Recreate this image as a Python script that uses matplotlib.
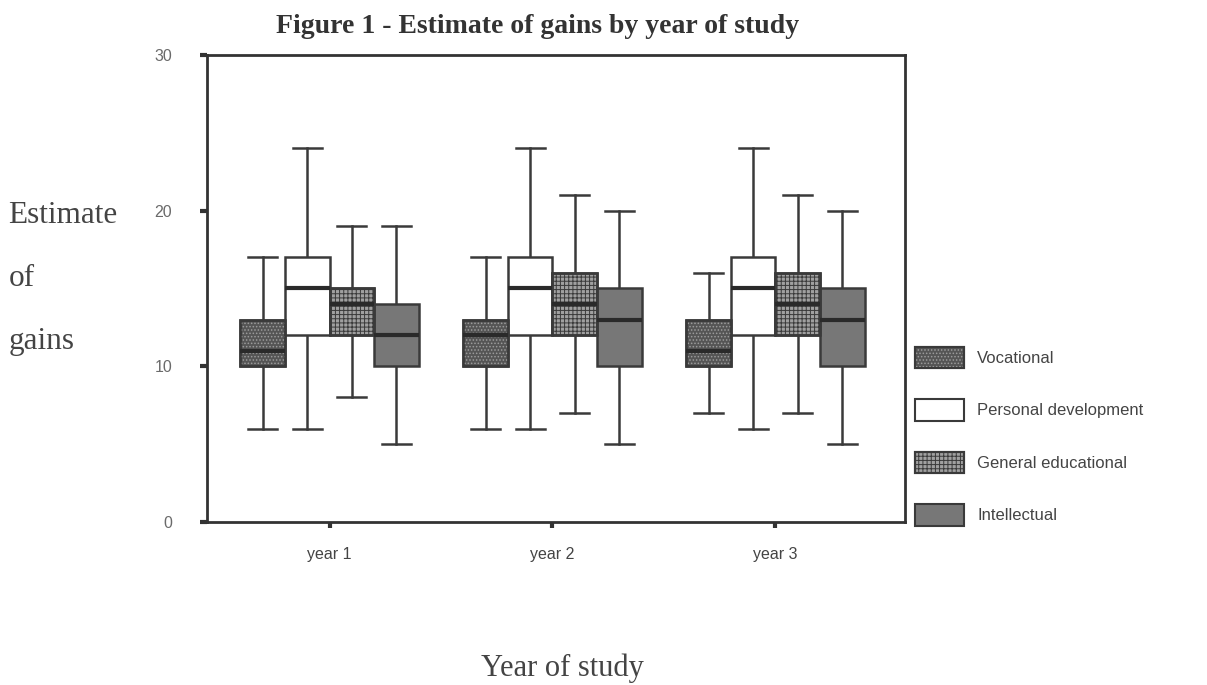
import matplotlib
matplotlib.use("Agg")
import matplotlib.pyplot as plt
from matplotlib.patches import Patch, PathPatch

plt.rcParams['hatch.linewidth'] = 0.7

# five-number summaries per category, one value per year of study
years = ['year 1', 'year 2', 'year 3']
categories = ['Vocational', 'Personal development', 'General educational', 'Intellectual']

whislo = {
    'Vocational': [6, 6, 7],
    'Personal development': [6, 6, 6],
    'General educational': [8, 7, 7],
    'Intellectual': [5, 5, 5],
}
q1 = {
    'Vocational': [10, 10, 10],
    'Personal development': [12, 12, 12],
    'General educational': [12, 12, 12],
    'Intellectual': [10, 10, 10],
}
med = {
    'Vocational': [11, 12, 11],
    'Personal development': [15, 15, 15],
    'General educational': [14, 14, 14],
    'Intellectual': [12, 13, 13],
}
q3 = {
    'Vocational': [13, 13, 13],
    'Personal development': [17, 17, 17],
    'General educational': [15, 16, 16],
    'Intellectual': [14, 15, 15],
}
whishi = {
    'Vocational': [17, 17, 16],
    'Personal development': [24, 24, 24],
    'General educational': [19, 21, 21],
    'Intellectual': [19, 20, 20],
}

face = {
    'Vocational': '#555555',
    'Personal development': '#ffffff',
    'General educational': '#a0a0a0',
    'Intellectual': '#777777',
}
hatch = {
    'Vocational': '.....',
    'Personal development': None,
    'General educational': '++++',
    'Intellectual': None,
}
hatch_col = {
    'Vocational': '#9c9c9c',
    'General educational': '#3a3a3a',
}

line_col = '#3a3a3a'

fig = plt.figure(figsize=(12.07, 6.85), dpi=100)
ax = fig.add_axes([0.1715, 0.238, 0.578, 0.682])

width = 0.2
offsets = [-1.5, -0.5, 0.5, 1.5]

for cat, off in zip(categories, offsets):
    stats = []
    for i in range(len(years)):
        stats.append(dict(whislo=whislo[cat][i], q1=q1[cat][i], med=med[cat][i],
                          q3=q3[cat][i], whishi=whishi[cat][i], fliers=[]))
    pos = [i + off * width for i in range(len(years))]
    bp = ax.bxp(stats, positions=pos, widths=width, patch_artist=True,
                showfliers=False, manage_ticks=False,
                boxprops=dict(facecolor=face[cat], edgecolor=line_col, linewidth=1.8),
                whiskerprops=dict(color=line_col, linewidth=1.8),
                capprops=dict(color=line_col, linewidth=1.8),
                medianprops=dict(color='#2a2a2a', linewidth=3),
                capwidths=0.13)
    for box in bp['boxes']:
        box.set_zorder(2)
        if hatch[cat]:
            over = PathPatch(box.get_path(), facecolor='none', edgecolor=hatch_col[cat],
                             hatch=hatch[cat], linewidth=0, zorder=2.1)
            ax.add_patch(over)
            # redraw the outline above the pattern
            ax.add_patch(PathPatch(box.get_path(), facecolor='none', edgecolor=line_col,
                                   linewidth=1.8, zorder=2.2))
    for m in bp['medians']:
        m.set_zorder(3)
    for w in bp['whiskers'] + bp['caps']:
        w.set_zorder(1)

ax.set_xlim(-0.55, 2.58)
ax.set_ylim(0, 30)
ax.set_xticks(range(len(years)))
ax.set_xticklabels(years)
ax.set_yticks([0, 10, 20, 30])

for s in ax.spines.values():
    s.set_color('#333333')
    s.set_linewidth(2)

ax.tick_params(axis='y', length=5, width=3, color='#333333', pad=20,
               labelsize=11.5, labelcolor='#6a6a6a')
ax.tick_params(axis='x', length=4, width=3, color='#333333', pad=14,
               labelsize=11.5, labelcolor='#444444')
for t in ax.get_xticklabels() + ax.get_yticklabels():
    t.set_family('Liberation Sans')

fig.text(0.445, 0.961, 'Figure 1 - Estimate of gains by year of study',
         ha='center', va='center', family='Liberation Serif', fontweight='bold',
         fontsize=20, color='#333333')
for txt, y in zip(['Estimate', 'of', 'gains'], [0.686, 0.594, 0.502]):
    fig.text(0.007, y, txt, ha='left', va='center', family='Liberation Serif',
             fontsize=22.5, color='#444444')
fig.text(0.466, 0.025, 'Year of study', ha='center', va='center',
         family='Liberation Serif', fontsize=22, color='#444444')

handles = []
for cat in categories:
    base = Patch(facecolor=face[cat], edgecolor=line_col, linewidth=1.5)
    if hatch[cat]:
        top = Patch(facecolor='none', edgecolor=hatch_col[cat], hatch=hatch[cat], linewidth=0)
        rim = Patch(facecolor='none', edgecolor=line_col, linewidth=1.5)
        handles.append((base, top, rim))
    else:
        handles.append(base)

leg = fig.legend(handles, categories, loc='upper left', bbox_to_anchor=(0.746, 0.516),
                 frameon=False, handlelength=2.9, handleheight=1.6,
                 labelspacing=1.87, handletextpad=0.8,
                 prop=dict(family='Liberation Sans', size=12))
for t in leg.get_texts():
    t.set_color('#444444')

fig.savefig('out.png', dpi=100)
